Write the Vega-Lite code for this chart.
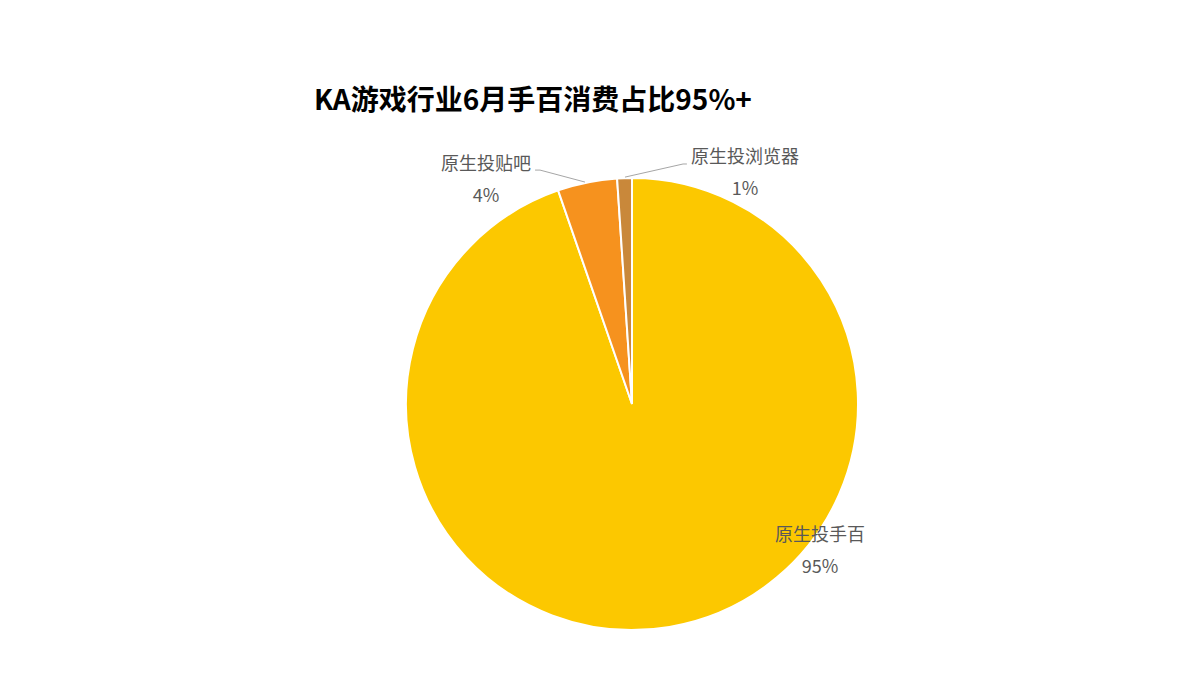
{
  "$schema": "https://vega.github.io/schema/vega-lite/v6.json",
  "width": 1200,
  "height": 700,
  "autosize": {"type": "none"},
  "padding": 0,
  "background": "white",
  "config": {"view": {"stroke": null}, "font": "Noto Sans CJK SC"},
  "title": {
    "text": "KA游戏行业6月手百消费占比95%+",
    "anchor": "start",
    "frame": "group",
    "orient": "top",
    "offset": 0,
    "baseline": "top",
    "dx": 314,
    "dy": 116,
    "fontSize": 28,
    "fontWeight": "bold",
    "color": "#000000",
    "font": "Noto Sans CJK SC"
  },
  "datasets": {
    "slices": [
      {"name": "原生投手百", "share": 0.947},
      {"name": "原生投贴吧", "share": 0.0425},
      {"name": "原生投浏览器", "share": 0.0105}
    ],
    "labels": [
      {"name": "原生投手百", "share": 0.947, "x": 0.832, "y": -0.655},
      {"name": "原生投贴吧", "share": 0.0425, "x": -0.646, "y": 0.987},
      {"name": "原生投浏览器", "share": 0.0105, "x": 0.5, "y": 1.018}
    ],
    "leaders": [
      {"name": "原生投贴吧", "step": 0, "x": -0.429, "y": 1.035},
      {"name": "原生投贴吧", "step": 1, "x": -0.407, "y": 1.035},
      {"name": "原生投贴吧", "step": 2, "x": -0.208, "y": 0.982},
      {"name": "原生投浏览器", "step": 0, "x": 0.243, "y": 1.062},
      {"name": "原生投浏览器", "step": 1, "x": 0.226, "y": 1.062},
      {"name": "原生投浏览器", "step": 2, "x": -0.031, "y": 1.004}
    ]
  },
  "layer": [
    {
      "data": {"name": "slices"},
      "mark": {"type": "arc", "outerRadius": 226, "stroke": "white", "strokeWidth": 2},
      "encoding": {
        "theta": {"field": "share", "type": "quantitative", "stack": true},
        "order": {"field": "share", "type": "quantitative", "sort": "descending"},
        "x": {
          "datum": 0,
          "type": "quantitative",
          "scale": {"domain": [-2.7965, 2.5133], "nice": false, "zero": false},
          "axis": null
        },
        "y": {
          "datum": 0,
          "type": "quantitative",
          "scale": {"domain": [-1.3097, 1.7876], "nice": false, "zero": false},
          "axis": null
        },
        "color": {
          "field": "name",
          "type": "nominal",
          "scale": {
            "domain": ["原生投手百", "原生投贴吧", "原生投浏览器"],
            "range": ["#FCC800", "#F6921E", "#C9883A"]
          },
          "legend": null
        },
        "tooltip": [
          {"field": "name", "type": "nominal", "title": "渠道"},
          {"field": "share", "type": "quantitative", "title": "占比", "format": ".1%"}
        ]
      }
    },
    {
      "data": {"name": "leaders"},
      "mark": {"type": "line", "color": "#A6A6A6", "strokeWidth": 1},
      "encoding": {
        "x": {"field": "x", "type": "quantitative", "axis": null},
        "y": {"field": "y", "type": "quantitative", "axis": null},
        "detail": {"field": "name"},
        "order": {"field": "step", "type": "quantitative"}
      }
    },
    {
      "data": {"name": "labels"},
      "mark": {"type": "text", "fontSize": 18, "color": "#595959", "dy": -16, "align": "center", "baseline": "middle"},
      "encoding": {
        "x": {"field": "x", "type": "quantitative", "axis": null},
        "y": {"field": "y", "type": "quantitative", "axis": null},
        "text": {"field": "name"}
      }
    },
    {
      "data": {"name": "labels"},
      "mark": {"type": "text", "fontSize": 18, "color": "#595959", "dy": 16, "align": "center", "baseline": "middle"},
      "encoding": {
        "x": {"field": "x", "type": "quantitative", "axis": null},
        "y": {"field": "y", "type": "quantitative", "axis": null},
        "text": {"field": "share", "type": "quantitative", "format": ".0%"}
      }
    }
  ]
}
